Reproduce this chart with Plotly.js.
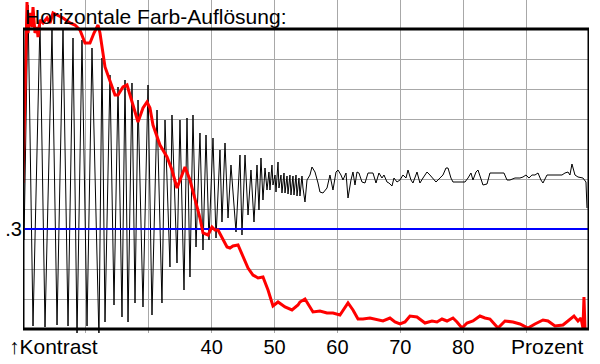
<!DOCTYPE html>
<html><head><meta charset="utf-8">
<script src="https://cdn.plot.ly/plotly-3.0.1.min.js"></script>
<style>html,body{margin:0;padding:0;background:#fff}</style>
</head><body><div id="chart" style="width:600px;height:364px"></div>
<script>
// Black measured contrast curve (Prozent, Kontrast)
const blackX = [10.16,10.80,11.59,12.70,13.50,14.61,15.41,16.36,17.16,17.95,18.59,19.38,20.18,20.97,22.08,22.56,23.04,23.83,24.47,25.11,25.74,26.22,26.70,27.33,27.81,28.29,29.08,29.88,30.51,31.31,32.10,32.58,33.37,33.69,34.49,34.96,35.60,36.08,36.55,37.03,37.51,38.14,38.62,39.10,39.57,40.21,40.69,41.32,41.64,42.12,42.60,43.07,43.87,44.50,44.82,45.30,45.78,46.25,46.73,47.21,47.52,47.84,48.16,48.48,48.80,
  49.11,49.27,49.59,49.75,50.07,50.23,50.55,50.70,51.02,51.18,51.50,51.66,51.98,52.14,52.45,52.61,52.93,53.09,53.41,53.57,53.88,54.04,54.36,54.52,54.84,55.16,55.63,55.95,56.43,56.91,57.22,57.70,58.34,58.81,59.29,59.77,60.09,60.56,60.88,61.36,61.68,62.15,62.47,62.79,63.11,63.42,63.90,64.38,64.86,65.65,66.13,66.60,67.08,67.40,67.88,68.19,68.67,68.99,69.47,69.94,70.42,70.90,71.22,71.69,72.01,72.65,73.12,73.60,74.24,74.71,75.19,75.67,76.30,76.78,77.26,77.58,78.05,78.37,78.69,80.28,80.76,81.23,81.55,82.03,82.35,82.82,83.14,83.78,84.25,85.53,86.48,86.96,87.43,88.23,89.02,89.50,89.98,90.45,90.93,91.41,91.89,92.36,92.68,93.32,94.11,94.91,95.70,96.18,96.66,96.97,97.29,97.77,98.25,99.04,99.52,99.68];
const blackY = [0.267,0.972,0.009,0.921,0.006,0.897,0.012,0.903,0.009,0.873,-0.021,0.867,0.009,0.843,-0.027,0.813,0.021,0.762,0.072,0.726,0.036,0.747,0.021,0.738,0.078,0.687,0.066,0.732,0.042,0.657,0.078,0.627,0.186,0.642,0.198,0.627,0.117,0.633,0.156,0.642,0.246,0.588,0.237,0.582,0.267,0.573,0.273,0.537,0.321,0.558,0.333,0.492,0.291,0.522,0.282,0.522,0.342,0.477,0.321,0.492,0.357,0.513,0.387,0.483,0.417,
  0.471,0.417,0.492,0.432,0.462,0.411,0.501,0.423,0.462,0.408,0.468,0.408,0.459,0.405,0.462,0.402,0.459,0.402,0.462,0.399,0.453,0.399,0.459,0.423,0.381,0.447,0.462,0.486,0.471,0.438,0.411,0.408,0.423,0.462,0.417,0.471,0.477,0.462,0.447,0.468,0.393,0.447,0.471,0.432,0.471,0.468,0.441,0.438,0.468,0.468,0.438,0.468,0.453,0.462,0.441,0.438,0.429,0.453,0.441,0.447,0.462,0.453,0.477,0.447,0.438,0.471,0.438,0.453,0.471,0.462,0.453,0.441,0.453,0.462,0.483,0.483,0.453,0.441,0.441,0.441,0.453,0.468,0.447,0.471,0.477,0.447,0.432,0.435,0.468,0.468,0.468,0.447,0.447,0.453,0.453,0.456,0.462,0.453,0.462,0.462,0.468,0.447,0.438,0.462,0.462,0.462,0.462,0.468,0.471,0.462,0.495,0.462,0.456,0.453,0.441,0.363];

// Red smoothed curve
const redX = [10.00,10.32,10.64,10.80,11.11,11.43,11.59,11.91,12.23,12.39,12.70,13.18,13.82,14.29,14.77,15.41,16.36,17.47,18.27,19.06,19.86,20.65,21.29,21.93,22.24,23.04,23.83,24.63,25.11,25.90,26.54,27.01,27.81,28.29,29.08,29.72,30.19,30.67,31.78,32.90,33.69,34.49,35.28,35.76,36.55,37.67,38.14,38.62,39.42,40.05,40.53,41.01,41.64,42.44,42.91,43.39,44.19,44.98,45.78,46.57,47.37,48.16,48.96,49.75,50.55,51.66,52.77,53.73,54.04,54.84,56.11,57.22,58.34,59.29,60.40,61.68,62.47,63.27,64.06,65.17,66.29,67.24,68.35,69.15,69.94,70.74,71.53,72.65,73.92,75.03,75.83,76.62,77.42,78.37,79.01,79.80,80.60,81.55,82.66,83.46,84.25,85.53,86.64,87.91,89.02,90.30,91.41,92.68,93.48,94.59,95.86,96.97,97.61,98.25,98.72,99.04,99.20,99.36];
const redY = [0.438,0.687,0.981,0.888,0.948,0.906,0.966,0.888,0.906,0.876,0.927,0.918,0.933,0.918,0.948,0.942,0.933,0.918,0.912,0.897,0.858,0.858,0.888,0.912,0.888,0.786,0.747,0.702,0.702,0.726,0.732,0.702,0.657,0.621,0.663,0.681,0.663,0.612,0.552,0.516,0.477,0.423,0.462,0.486,0.447,0.366,0.333,0.288,0.282,0.306,0.297,0.297,0.273,0.246,0.243,0.249,0.252,0.216,0.183,0.162,0.153,0.156,0.117,0.069,0.081,0.066,0.057,0.072,0.081,0.090,0.051,0.054,0.048,0.048,0.042,0.078,0.057,0.030,0.030,0.033,0.027,0.024,0.033,0.021,0.015,0.021,0.039,0.036,0.018,0.024,0.021,0.030,0.024,0.033,0.021,0.003,0.018,0.024,0.039,0.033,0.030,0.003,0.024,0.021,0.015,0.003,0.015,0.027,0.024,0.009,0.012,0.030,0.039,0.024,0.033,0.003,0.096,0.003];

// Blue reference level
const thresholdX = [10, 100];
const thresholdY = [0.3, 0.3];

// Ticks
const xTickVals = [10,20,30,40,50,60,70,80,90,100];
const xTickText = ['','','','40','50','60','70','80','',''];
const yTickVals = [0,0.09,0.18,0.27,0.3,0.36,0.45,0.54,0.63,0.72,0.81,0.9];
const yTickText = ['','','','','.3','','','','','','',''];

const titleText = 'Horizontale Farb-Auflösung:';
const yName = '\u2191Kontrast';
const xName = 'Prozent';

const FONT = 'Liberation Sans, Arial, sans-serif';

const traces = [
  {x: blackX, y: blackY, type: 'scatter', mode: 'lines', line: {color: '#000', width: 1}, hoverinfo: 'skip'},
  {x: thresholdX, y: thresholdY, type: 'scatter', mode: 'lines', line: {color: '#0000ff', width: 2}, hoverinfo: 'skip'},
  {x: redX, y: redY, type: 'scatter', mode: 'lines', line: {color: '#ff0000', width: 3}, hoverinfo: 'skip'}
];

const layout = {
  width: 600, height: 364,
  margin: {l: 23, r: 11, t: 0, b: 31, pad: 0},
  paper_bgcolor: '#fff', plot_bgcolor: '#fff',
  showlegend: false,
  font: {family: FONT, size: 20, color: '#000'},
  xaxis: {
    range: [10, 100], tickmode: 'array', tickvals: xTickVals, ticktext: xTickText,
    showgrid: true, gridcolor: '#a8a8a8', gridwidth: 1, zeroline: false, showline: false,
    ticks: '', tickfont: {family: FONT, size: 20, color: '#000'}, fixedrange: true
  },
  yaxis: {
    range: [-0.012, 0.987], tickmode: 'array', tickvals: yTickVals, ticktext: yTickText,
    showgrid: true, gridcolor: '#a8a8a8', gridwidth: 1, zeroline: false, showline: false,
    ticks: '', tickfont: {family: FONT, size: 20, color: '#000'}, fixedrange: true
  },
  shapes: [
    {type: 'rect', xref: 'x', yref: 'y', x0: 10, x1: 100, y0: 0, y1: 0.9,
     line: {color: '#000', width: 3}, fillcolor: 'rgba(0,0,0,0)', layer: 'above'}
  ],
  annotations: [
    {text: titleText, xref: 'paper', yref: 'paper', x: 0, y: 1, xanchor: 'left', yanchor: 'top',
     xshift: 0, yshift: -3, showarrow: false, font: {family: FONT, size: 21, color: '#000'}},
    {text: yName, xref: 'paper', yref: 'paper', x: 0, y: 0, xanchor: 'left', yanchor: 'top',
     xshift: -16, yshift: 0, showarrow: false, font: {family: FONT, size: 21, color: '#000'}},
    {text: xName, xref: 'paper', yref: 'paper', x: 1, y: 0, xanchor: 'right', yanchor: 'top',
     xshift: -3, yshift: 0, showarrow: false, font: {family: FONT, size: 21, color: '#000'}}
  ]
};

Plotly.newPlot('chart', traces, layout, {displayModeBar: false, staticPlot: true});
</script>
</body></html>
